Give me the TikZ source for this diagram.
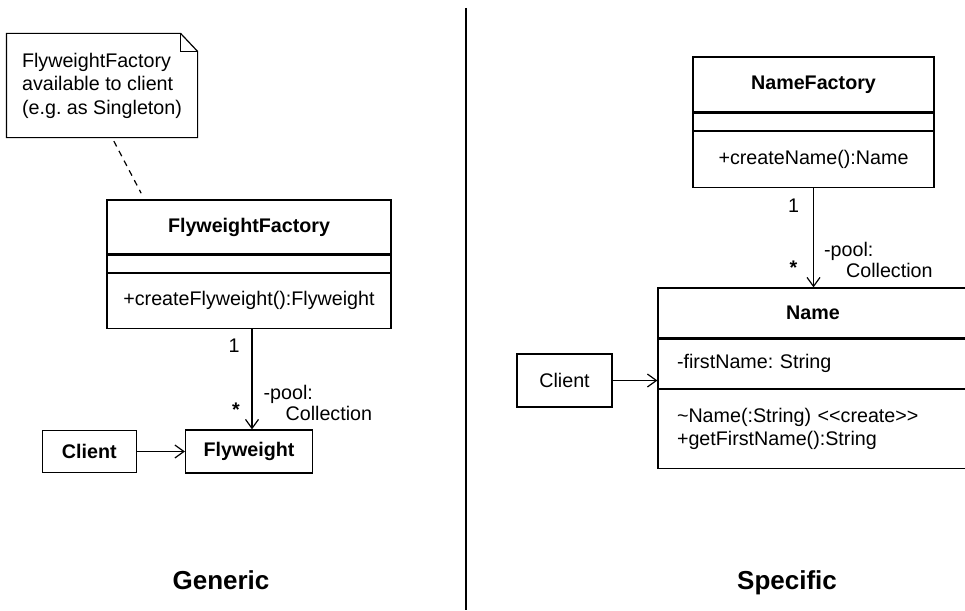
\documentclass[tikz,border=0pt]{standalone}
\usepackage{fontspec}
\setmainfont{Liberation Sans}
\usetikzlibrary{positioning, arrows.meta}
\newcommand{\umlfont}{\fontsize{19.7}{23.5}\selectfont}
\frenchspacing

\begin{document}
\begin{tikzpicture}[
    x=1pt, y=-1pt,
    >={Straight Barb[length=9pt, width=13pt]},
    font=\umlfont,
    line width=1.2pt,
    classbox/.style={draw, inner sep=0pt, minimum width=#1},
    simplebox/.style={draw, inner sep=0pt},
    notebox/.style={inner sep=0pt, minimum width=190pt, minimum height=103pt, align=left},
    tag/.style={inner sep=0pt, font=\fontsize{19.7}{21}\selectfont, align=left},
    title/.style={anchor=base, font=\fontsize{26}{30}\selectfont\bfseries},
    notelink/.style={dash pattern=on 6pt off 5pt, shorten <=4pt, shorten >=7pt}
  ]
    \useasboundingbox (0,0) rectangle (965,610);
    \clip (0,0) rectangle (965,610);

    % --- Generic ---
    \node[notebox] (note) at (102,85.5)
      {FlyweightFactory\\available to client\\(e.g. as Singleton)};
    \draw (note.north west) -- ([xshift=-17pt]note.north east)
      -- ([yshift=-18pt]note.north east) -- (note.south east)
      -- (note.south west) -- cycle;
    \draw ([xshift=-17pt]note.north east) |- ([yshift=-18pt]note.north east);

    \node[classbox=284pt, minimum height=54pt, font=\umlfont\bfseries] (ffname)
      at (249,227) {FlyweightFactory};
    \node[classbox=284pt, minimum height=17pt, below=0pt of ffname] (ffattr) {};
    \node[classbox=284pt, minimum height=55pt, below=0pt of ffattr] (ffops)
      {+createFlyweight():Flyweight};

    \draw[notelink] ([xshift=10pt]note.south) -- ([xshift=38pt]ffname.north west);

    \node[simplebox, minimum width=127pt, minimum height=43pt, font=\umlfont\bfseries] (fw)
      at (249,451.5) {Flyweight};
    \node[simplebox, minimum width=94pt, minimum height=42pt, font=\umlfont\bfseries,
          left=48pt of fw] (client) {Client};

    \draw[->] ([xshift=3pt]ffops.south) --
      node[pos=0, xshift=-18pt, yshift=-17pt] {1}
      node[pos=1, xshift=-16pt, yshift=20pt, font=\umlfont\bfseries] {*}
      node[pos=0.735, tag, anchor=west, xshift=11pt]
        {-pool:\\\hspace*{22pt}Collection}
      ([xshift=3pt]fw.north);
    \draw[->] (client) -- (fw);

    \node[title] (generic) at (221,589) {Generic};

    % --- Trennlinie ---
    \draw (466,8) -- (466,610);

    % --- Specific ---
    \node[classbox=241pt, minimum height=55pt, font=\umlfont\bfseries] (nfname)
      at (813.5,84.5) {NameFactory};
    \node[classbox=241pt, minimum height=17pt, below=0pt of nfname] (nfattr) {};
    \node[classbox=241pt, minimum height=56pt, below=0pt of nfattr] (nfops)
      {+createName():Name};

    \node[classbox=310pt, minimum height=50pt, font=\umlfont\bfseries] (nname)
      at (813,313) {Name};
    \node[classbox=310pt, minimum height=49pt, text width=272pt, align=left,
          below=0pt of nname] (nattr) {-firstName: String};
    \node[classbox=310pt, minimum height=79pt, text width=272pt, align=left,
          below=0pt of nattr] (nops)
      {\textasciitilde Name(:String) <{}<create>{}>\\+getFirstName():String};

    \draw[->] (nfops.south) --
      node[pos=0, xshift=-20pt, yshift=-18pt] {1}
      node[pos=1, xshift=-20pt, yshift=20pt, font=\umlfont\bfseries] {*}
      node[pos=0.72, tag, anchor=west, xshift=10pt]
        {-pool:\\\hspace*{22pt}Collection}
      (nfops.south |- nname.north);

    \node[simplebox, minimum width=95pt, minimum height=53pt] (nclient)
      at (564.5,380.5) {Client};
    \draw[->] (nclient.east) -- (nclient.east -| nattr.west);

    \node[title] (specific) at (787,589) {Specific};

  \end{tikzpicture}
\end{document}
